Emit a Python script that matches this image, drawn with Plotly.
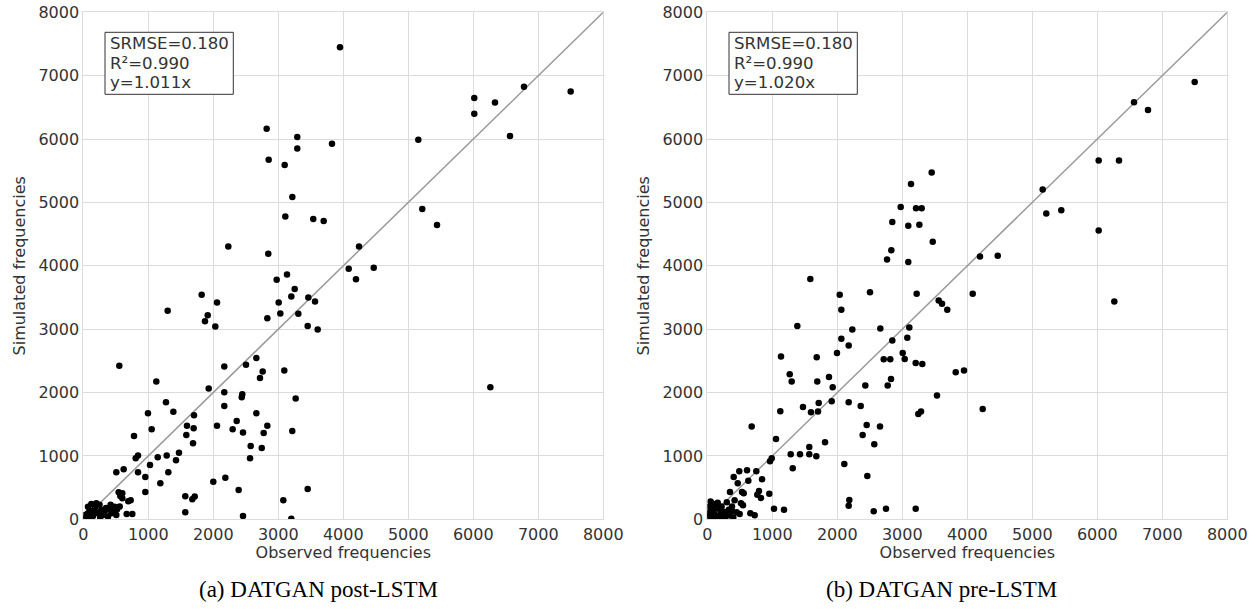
import plotly.graph_objects as go

# ---------------- data: (a) DATGAN post-LSTM ----------------
post_obs = [3949, 2821, 3292, 3292, 3826, 2852, 3098, 3216,
            3108, 3538, 3698, 2231, 2846, 3134, 2975, 3252, 3200, 3462, 3565, 3006,
            1821, 2057, 1298, 1914, 1872, 2031, 2831, 3031, 3308, 3452, 3606, 2662,
            5154, 6015, 6015, 6334, 6780, 7498, 6565, 5215, 5442, 4242, 4083, 4195, 4468, 6262,
            554, 1123, 2169, 2503, 2760, 2718, 3092, 1929, 2169, 2446, 2437, 3267, 1272, 1385,
            995, 1703, 2169, 2662, 2360, 1595, 1698, 2057, 2298, 2457, 2775, 2831, 3215, 1052,
            780, 1585, 1688, 2575, 2745, 2565, 806, 842, 1145, 1283, 1472, 1426, 1026, 621,
            508, 842, 954, 1308, 1185, 954, 544, 600, 569, 692, 729, 667, 754, 2000, 2185,
            2390, 1569, 1677, 1714, 1569, 2457, 3077, 3200, 3452,
            600, 483, 406, 200, 123, 72, 277, 329, 431, 226, 72, 22, 149, 303, 508, 380,
            250, 180, 100, 50, 30, 350, 460, 260, 120, 520, 560, 180, 420, 90]
post_sim = [7447, 6163, 6032, 5852, 5926, 5674, 5590, 5084,
            4778, 4737, 4705, 4305, 4189, 3863, 3779, 3632, 3516, 3500, 3437, 3421,
            3542, 3421, 3289, 3221, 3126, 3042, 3174, 3247, 3242, 3052, 2995, 2545,
            5989, 6647, 6400, 6578, 6826, 6752, 6047, 4895, 4642, 4305, 3952, 3789, 3968, 2084,
            2421, 2173, 2410, 2437, 2331, 2231, 2347, 2063, 2005, 1974, 1926, 1905, 1847, 1699,
            1674, 1642, 1789, 1674, 1552, 1478, 1437, 1478, 1421, 1368, 1363, 1478, 1394, 1421,
            1315, 1331, 1200, 1157, 1126, 963, 963, 1005, 979, 1005, 1052, 931, 857, 789,
            742, 742, 668, 742, 568, 431, 426, 410, 368, 284, 300, 84, 84, 594, 657,
            463, 363, 316, 358, 110, 52, 300, 10, 478,
            331, 199, 158, 253, 242, 199, 147, 120, 95, 95, 95, 68, 52, 68, 68, 41,
            230, 180, 140, 40, 10, 180, 140, 30, 20, 160, 200, 120, 230, 60]

# ---------------- data: (b) DATGAN pre-LSTM ----------------
pre_obs = [3134, 3452, 2975, 3211, 3298, 2846, 3092, 3262, 3468, 2831, 2765, 3092,
           1585, 2037, 2503, 3221, 3560, 3611, 3692, 2062, 1385, 2231, 2662, 3108,
           2062, 2175, 2846, 3077, 1995, 3006, 1134, 1683, 2714, 2815, 3037,
           3206, 3308, 3822, 1268, 1298, 1692, 1872, 1929, 2431, 2826, 2775, 3534,
           1714, 1914, 1472, 1595, 1703, 2175, 2360, 1123, 3246, 3288, 683, 1057,
           1811, 2452, 2390, 2657, 2569, 1283, 1426, 1569, 1569, 1677, 965, 991,
           1314, 2108, 2462, 611, 492, 754, 406, 631, 842, 468, 349, 534, 560,
           795, 769, 826, 954, 518, 549, 380, 498, 662, 729, 1026, 1180, 2185,
           2175, 2560, 2749, 3206,
           4195, 4468, 5160, 5215, 5446, 6021, 6021, 6334, 6565, 6780, 7498,
           4083, 3949, 4237, 6262,
           50, 80, 30, 120, 60, 150, 200, 250, 300, 100, 40, 20, 180, 280, 350,
           400, 450, 130, 70, 220, 330, 10, 160, 90, 260, 380, 420, 300, 200, 50]
pre_sim = [5290, 5473, 4927, 4910, 4910, 4690, 4631, 4647, 4379, 4247, 4100, 4058,
           3790, 3542, 3584, 3558, 3452, 3400, 3305, 3305, 3052, 2995, 3010, 3026,
           2847, 2742, 2821, 2863, 2626, 2626, 2568, 2558, 2526, 2526, 2531,
           2468, 2452, 2321, 2289, 2173, 2173, 2247, 2084, 2110, 2215, 2110, 1953,
           1837, 1863, 1773, 1689, 1700, 1847, 1789, 1705, 1663, 1700, 1463, 1268,
           1215, 1489, 1331, 1463, 1184, 1026, 1026, 1026, 1142, 995, 916, 963,
           805, 873, 684, 773, 758, 758, 668, 610, 631, 568, 431, 431, 410,
           447, 389, 337, 405, 252, 221, 200, 84, 95, 63, 168, 152, 305,
           215, 126, 168, 168,
           4147, 4158, 5205, 4826, 4878, 4557, 5663, 5663, 6579, 6458, 6900,
           3558, 2347, 1742, 3437,
           280, 250, 200, 220, 160, 180, 140, 120, 100, 100, 60, 20, 60, 40, 60,
           30, 110, 30, 10, 200, 150, 100, 260, 180, 80, 130, 300, 270, 30, 120]

diag = [0, 8000]
tick_vals = [0, 1000, 2000, 3000, 4000, 5000, 6000, 7000, 8000]
stats_a = ["SRMSE=0.180", "R\u00b2=0.990", "y=1.011x"]
stats_b = ["SRMSE=0.180", "R\u00b2=0.990", "y=1.020x"]
captions = ["(a) DATGAN post-LSTM", "(b) DATGAN pre-LSTM"]
x_title = "Observed frequencies"
y_title = "Simulated frequencies"

W, H = 1255, 611
TXT = "#333333"
GRID = "#dcdcdc"
FONT = "DejaVu Sans"

fig = go.Figure()
for i, (xs, ys) in enumerate([(post_obs, post_sim), (pre_obs, pre_sim)]):
    xa = "x" if i == 0 else "x2"
    ya = "y" if i == 0 else "y2"
    fig.add_trace(go.Scatter(x=diag, y=diag, mode="lines", xaxis=xa, yaxis=ya,
                             line=dict(color="#999999", width=1.5),
                             hoverinfo="skip", showlegend=False))
    fig.add_trace(go.Scatter(x=xs, y=ys, mode="markers", xaxis=xa, yaxis=ya,
                             marker=dict(color="black", size=6.5, line=dict(width=0)),
                             showlegend=False))

x_dom = [[83.3 / W, 603.3 / W], [707.3 / W, 1227.3 / W]]
y_dom = [1 - 519.3 / H, 1 - 12.3 / H]
PW, PH, PB = 520.0, 507.0, 519.3  # plot width/height in px, bottom px

ax_common = dict(range=[0, 8000], tickvals=tick_vals, showgrid=True, gridcolor=GRID,
                 gridwidth=1, zeroline=False, showline=True, linecolor=GRID, linewidth=1,
                 mirror=True, ticks="", automargin=False,
                 tickfont=dict(family=FONT, size=16, color=TXT),
                 title_font=dict(family=FONT, size=16, color=TXT))

fig.update_layout(
    width=W, height=H, margin=dict(l=0, r=0, t=0, b=0),
    paper_bgcolor="white", plot_bgcolor="white",
    xaxis=dict(domain=x_dom[0], anchor="y", title=dict(text=x_title, standoff=2), **ax_common),
    yaxis=dict(domain=y_dom, anchor="x", title=dict(text=y_title, standoff=8), **ax_common),
    xaxis2=dict(domain=x_dom[1], anchor="y2", title=dict(text=x_title, standoff=2), **ax_common),
    yaxis2=dict(domain=y_dom, anchor="x2", title=dict(text=y_title, standoff=8), **ax_common),
)

line_centers = [43.5, 63.0, 82.5]
for i, stats in enumerate([stats_a, stats_b]):
    suffix = "" if i == 0 else "2"
    xr, yr = f"x{suffix} domain", f"y{suffix} domain"
    fig.add_shape(type="rect", xref=xr, yref=yr,
                  x0=21.7 / PW, x1=150.0 / PW,
                  y0=(PB - 94.3) / PH, y1=(PB - 32.3) / PH,
                  line=dict(color="#333333", width=1), fillcolor="white", layer="above")
    for txt, cy in zip(stats, line_centers):
        fig.add_annotation(xref=xr, yref=yr, x=24.5 / PW, y=(PB - cy) / PH,
                           xanchor="left", yanchor="middle", text=txt, showarrow=False,
                           font=dict(family=FONT, size=16.6, color=TXT))

cap_x = [319 / W, 941 / W]
for cx, cap in zip(cap_x, captions):
    fig.add_annotation(xref="paper", yref="paper", x=cx, y=1 - 589 / H,
                       xanchor="center", yanchor="middle", text=cap, showarrow=False,
                       font=dict(family="Liberation Serif", size=23, color="black"))

fig.write_html("out.html", config={"displayModeBar": False},
               post_script="document.body.style.margin='0';")
